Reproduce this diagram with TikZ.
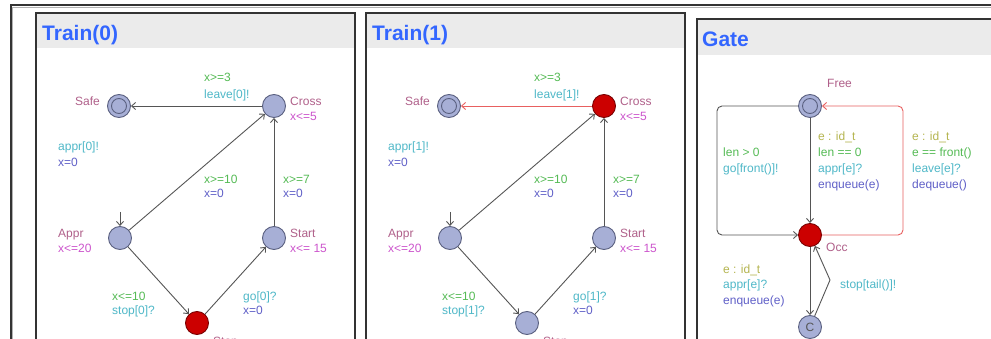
\documentclass[tikz,border=0pt]{standalone}
\usepackage{fontspec}
\setmainfont{Liberation Sans}
\usetikzlibrary{arrows.meta}
\definecolor{locname}{HTML}{B0608A}
\definecolor{inv}{HTML}{CC55CC}
\definecolor{grd}{HTML}{55BB55}
\definecolor{syn}{HTML}{4FB8C8}
\definecolor{asg}{HTML}{6060C8}
\definecolor{sel}{HTML}{B5B550}
\definecolor{ttl}{HTML}{3366FF}
\definecolor{hdr}{HTML}{EBEBEB}
\definecolor{locfill}{HTML}{A7AFD6}
\definecolor{locdraw}{HTML}{5A6080}
\definecolor{urg}{HTML}{CC0000}
\definecolor{edg}{HTML}{555555}
\definecolor{redg}{HTML}{E86060}
\definecolor{frame}{HTML}{333333}
\tikzset{
  loc/.style={circle, draw=locdraw, fill=locfill, line width=0.9pt, minimum size=23pt, inner sep=0pt, font=\fontsize{12}{14}\selectfont, text=edg},
  redloc/.style={loc, fill=urg, draw=urg!60!black},
  edge/.style={draw=edg, line width=0.9pt, -{Straight Barb[length=4pt,width=7pt]}},
  redge/.style={edge, draw=redg},
  lbl/.style={inner sep=0pt, font=\fontsize{12}{14}\selectfont, anchor=base west},
  ttlnode/.style={inner sep=0pt, font=\fontsize{21}{24}\selectfont\bfseries, text=ttl, anchor=base west},
  panel/.style={draw=frame, line width=1.5pt},
  inring/.style={draw=locdraw, line width=0.9pt}
}
\begin{document}
\begin{tikzpicture}[x=1pt,y=-1pt]
\clip (0,0) rectangle (991,339);
\fill[white] (0,0) rectangle (991,339);
% outer frame
\draw[frame, line width=2pt] (10.5,400) -- (10.5,5.5) -- (1000,5.5);
\draw[gray!60, line width=1.2pt] (12.8,400) -- (12.8,7.8) -- (1000,7.8);
% panels
\fill[hdr] (36,13) rectangle (355,48);
\fill[hdr] (366,13) rectangle (685,48);
\fill[hdr] (697,19) rectangle (1000,55);
\draw[panel] (36,400) -- (36,13) -- (355,13) -- (355,400);
\draw[panel] (366,400) -- (366,13) -- (685,13) -- (685,400);
\draw[panel] (697,400) -- (697,19) -- (1000,19);
\node[ttlnode] (t0) at (42,41) {Train(0)};
\node[ttlnode] (t1) at (372,41) {Train(1)};
\node[ttlnode] (tg) at (702,47) {Gate};

% ---------- Train(0)
\node[loc] (Safe0) at (119,106) {};
\draw[inring] (Safe0.center) circle[radius=7.5pt];
\node[loc] (Cross0) at (274,106) {};
\node[loc] (Appr0) at (120,238) {};
\node[loc] (Start0) at (274,238) {};
\node[redloc] (Stop0) at (197,323) {};
\coordinate (in0) at (120,212);
\draw[edge] (Cross0) -- (Safe0);
\draw[edge] (Appr0) -- (Cross0);
\draw[edge] (Start0) -- (Cross0);
\draw[edge] (Appr0) -- (Stop0);
\draw[edge] (Stop0) -- (Start0);
\draw[edge] (in0) -- (Appr0);
\node[lbl, anchor=base east, text=locname] (n01) at (100,106) {Safe};
\node[lbl, text=locname] (n02) at (290,106) {Cross};
\node[lbl, text=inv] (n03) at (290,121) {x<=5};
\node[lbl, text=grd] (n04) at (204,82) {x>=3};
\node[lbl, text=syn] (n05) at (204,99) {leave[0]!};
\node[lbl, text=syn] (n06) at (58,151) {appr[0]!};
\node[lbl, text=asg] (n07) at (58,167) {x=0};
\node[lbl, text=grd] (n08) at (204,184) {x>=10};
\node[lbl, text=asg] (n09) at (204,198) {x=0};
\node[lbl, text=grd] (n10) at (283,184) {x>=7};
\node[lbl, text=asg] (n11) at (283,198) {x=0};
\node[lbl, text=locname] (n12) at (58,238) {Appr};
\node[lbl, text=inv] (n13) at (58,253) {x<=20};
\node[lbl, text=locname] (n14) at (290,238) {Start};
\node[lbl, text=inv] (n15) at (290,253) {x<= 15};
\node[lbl, text=grd] (n16) at (112,300) {x<=10};
\node[lbl, text=syn] (n17) at (112,314) {stop[0]?};
\node[lbl, text=syn] (n18) at (243,300) {go[0]?};
\node[lbl, text=asg] (n19) at (243,314) {x=0};
\node[lbl, text=locname] (n20) at (213,345) {Stop};

% ---------- Train(1)
\node[loc] (Safe1) at (449,106) {};
\draw[inring] (Safe1.center) circle[radius=7.5pt];
\node[redloc] (Cross1) at (604,106) {};
\node[loc] (Appr1) at (450,238) {};
\node[loc] (Start1) at (604,238) {};
\node[loc] (Stop1) at (527,323) {};
\coordinate (in1) at (450,212);
\draw[redge] (Cross1) -- (Safe1);
\draw[edge] (Appr1) -- (Cross1);
\draw[edge] (Start1) -- (Cross1);
\draw[edge] (Appr1) -- (Stop1);
\draw[edge] (Stop1) -- (Start1);
\draw[edge] (in1) -- (Appr1);
\node[lbl, anchor=base east, text=locname] (m01) at (430,106) {Safe};
\node[lbl, text=locname] (m02) at (620,106) {Cross};
\node[lbl, text=inv] (m03) at (620,121) {x<=5};
\node[lbl, text=grd] (m04) at (534,82) {x>=3};
\node[lbl, text=syn] (m05) at (534,99) {leave[1]!};
\node[lbl, text=syn] (m06) at (388,151) {appr[1]!};
\node[lbl, text=asg] (m07) at (388,167) {x=0};
\node[lbl, text=grd] (m08) at (534,184) {x>=10};
\node[lbl, text=asg] (m09) at (534,198) {x=0};
\node[lbl, text=grd] (m10) at (613,184) {x>=7};
\node[lbl, text=asg] (m11) at (613,198) {x=0};
\node[lbl, text=locname] (m12) at (388,238) {Appr};
\node[lbl, text=inv] (m13) at (388,253) {x<=20};
\node[lbl, text=locname] (m14) at (620,238) {Start};
\node[lbl, text=inv] (m15) at (620,253) {x<= 15};
\node[lbl, text=grd] (m16) at (442,300) {x<=10};
\node[lbl, text=syn] (m17) at (442,314) {stop[1]?};
\node[lbl, text=syn] (m18) at (573,300) {go[1]?};
\node[lbl, text=asg] (m19) at (573,314) {x=0};
\node[lbl, text=locname] (m20) at (543,345) {Stop};

% ---------- Gate
\node[loc] (Free) at (810,106) {};
\draw[inring] (Free.center) circle[radius=7.5pt];
\node[redloc] (Occ) at (810,235) {};
\node[loc] (Cm) at (810,327) {C};
\coordinate (gl1) at (717,106);
\coordinate (gl2) at (717,235);
\coordinate (gr1) at (903,235);
\coordinate (gr2) at (903,106);
\coordinate (gb) at (830,280);
\draw[edge, rounded corners=5pt] (Free) -- (gl1) -- (gl2) -- (Occ);
\draw[redge, rounded corners=5pt] (Occ) -- (gr1) -- (gr2) -- (Free);
\draw[edge] (Free) -- (Occ);
\draw[edge] (Occ) -- (Cm);
\draw[edge] (Cm) -- (gb) -- (Occ);
\node[lbl, text=locname] (g01) at (827,88) {Free};
\node[lbl, text=locname] (g02) at (826,252) {Occ};
\node[lbl, text=sel] (g03) at (818,141) {e : id\_t};
\node[lbl, text=grd] (g04) at (818,157) {len == 0};
\node[lbl, text=syn] (g05) at (818,173) {appr[e]?};
\node[lbl, text=asg] (g06) at (818,189) {enqueue(e)};
\node[lbl, text=grd] (g07) at (723,157) {len > 0};
\node[lbl, text=syn] (g08) at (723,173) {go[front()]!};
\node[lbl, text=sel] (g09) at (912,141) {e : id\_t};
\node[lbl, text=grd] (g10) at (912,157) {e == front()};
\node[lbl, text=syn] (g11) at (912,173) {leave[e]?};
\node[lbl, text=asg] (g12) at (912,189) {dequeue()};
\node[lbl, text=sel] (g13) at (723,273) {e : id\_t};
\node[lbl, text=syn] (g14) at (723,288) {appr[e]?};
\node[lbl, text=asg] (g15) at (723,304) {enqueue(e)};
\node[lbl, text=syn] (g16) at (840,288) {stop[tail()]!};
\end{tikzpicture}
\end{document}
